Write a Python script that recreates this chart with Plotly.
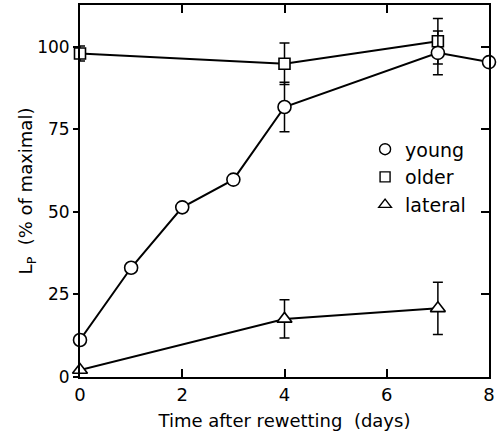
import plotly.graph_objects as go

days_young = [0, 1, 2, 3, 4, 7, 8]
lp_young = [11.2, 33.1, 51.4, 59.8, 81.8, 98.2, 95.4]
err_young = [0, 0, 0, 0, 7.5, 6.6, 0]

days_older = [0, 4, 7]
lp_older = [98.0, 94.9, 101.7]
err_older = [2.3, 6.3, 6.9]

days_lateral = [0, 4, 7]
lp_lateral = [2.1, 17.6, 20.8]
err_lateral = [0, 5.8, 7.9]

x_ticks = [0, 2, 4, 6, 8]
y_ticks = [0, 25, 50, 75, 100]

FONT = "DejaVu Sans"
BLACK = "black"

fig = go.Figure()

def add_series(x, y, err, symbol, size, name):
    fig.add_trace(go.Scatter(
        x=x, y=y, mode="lines+markers", name=name, showlegend=False,
        line=dict(color=BLACK, width=2),
        marker=dict(symbol=symbol, size=size, color="white",
                    line=dict(color=BLACK, width=1.6)),
        error_y=dict(type="data", array=err, visible=True, color=BLACK,
                     thickness=1.5, width=5),
        cliponaxis=False,
    ))

add_series(days_older, lp_older, err_older, "square", 11, "older")
add_series(days_lateral, lp_lateral, err_lateral, "triangle-up", 13, "lateral")
add_series(days_young, lp_young, err_young, "circle", 13, "young")

# legend entries (marker only) on the mirrored right axis
for name, sym, sz in [("young", "circle", 11), ("older", "square", 10), ("lateral", "triangle-up", 11)]:
    fig.add_trace(go.Scatter(
        x=[None], y=[None], mode="markers", name=name, yaxis="y2",
        marker=dict(symbol=sym, size=sz, color="white",
                    line=dict(color=BLACK, width=1.4)),
    ))

fig.update_layout(
    width=503, height=435,
    margin=dict(l=80, r=14, t=5, b=58),
    paper_bgcolor="white", plot_bgcolor="white",
    font=dict(family=FONT, size=17, color=BLACK),
    xaxis=dict(
        range=[0, 8], tickvals=x_ticks, ticks="inside", ticklen=8, tickwidth=1.5,
        tickcolor=BLACK, showline=True, linecolor=BLACK, linewidth=2,
        mirror="ticks", showgrid=False, zeroline=False, automargin=False,
        tickfont=dict(size=18),
        title=dict(text="Time after rewetting  (days)", font=dict(size=18), standoff=11),
    ),
    yaxis=dict(
        range=[0, 112.7], tickvals=y_ticks, ticks="outside", ticklen=5, tickwidth=1.5,
        tickcolor=BLACK, showline=True, linecolor=BLACK, linewidth=2,
        mirror=True, showgrid=False, zeroline=False, automargin=False,
        tickfont=dict(size=17),
        title=dict(text="L<sub>P</sub>  (% of maximal)", font=dict(size=18), standoff=0),
    ),
    yaxis2=dict(
        range=[0, 112.7], overlaying="y", side="right", tickvals=y_ticks,
        ticks="inside", ticklen=8, tickwidth=1.5, tickcolor=BLACK,
        showticklabels=False, showgrid=False, zeroline=False, showline=False,
        automargin=False,
    ),
    legend=dict(
        x=0.697, y=0.663, xanchor="left", yanchor="top",
        bgcolor="rgba(0,0,0,0)", font=dict(size=19),
        itemwidth=30, tracegroupgap=0,
    ),
)

fig.write_html("out.html", config={"displayModeBar": False},
               post_script="document.body.style.margin='0';document.body.style.overflow='hidden';")
